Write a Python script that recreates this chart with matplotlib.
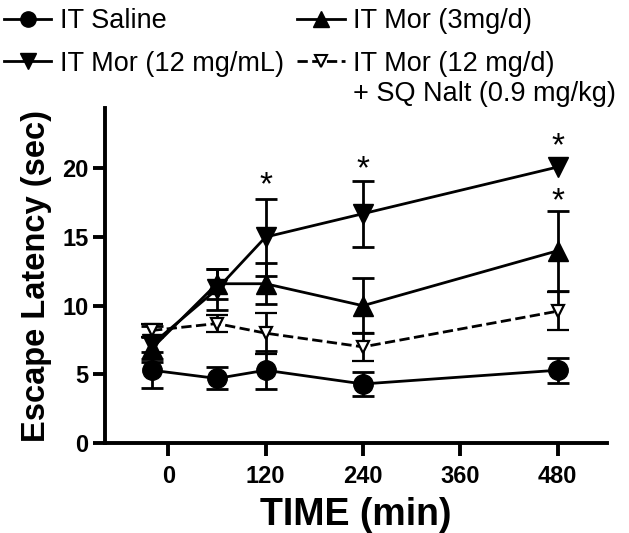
import matplotlib
matplotlib.use("Agg")
import matplotlib.pyplot as plt
from matplotlib.lines import Line2D

plt.rcParams['font.family'] = ['Liberation Sans', 'DejaVu Sans']

# ---- data ----
time_min = [-20, 60, 120, 240, 480]
saline_mean = [5.3, 4.7, 5.3, 4.3, 5.3]
saline_sem = [1.3, 0.8, 1.4, 0.9, 0.9]
mor3_mean = [6.9, 11.6, 11.6, 10.0, 14.0]
mor3_sem = [0.8, 1.1, 1.5, 2.0, 2.9]
mor12_mean = [7.2, 11.2, 15.0, 16.7, 20.1]
mor12_sem = [1.3, 1.5, 2.8, 2.4, float('nan')]  # error bar hidden at 480
nalt_mean = [8.2, 8.7, 8.0, 7.0, 9.6]
nalt_sem = [0.5, 0.6, 1.5, 1.0, 1.4]

star_x = [120, 240, 480, 480]
star_y = [18.7, 19.9, 21.6, 17.6]

xticks = [0, 120, 240, 360, 480]
yticks = [0, 5, 10, 15, 20]

labels = ["IT Saline", "IT Mor (3mg/d)", "IT Mor (12 mg/mL)", "IT Mor (12 mg/d)"]
nalt_label_line2 = "+ SQ Nalt (0.9 mg/kg)"

# ---- figure ----
fig = plt.figure(figsize=(6.29, 5.33), dpi=100)
ax = fig.add_axes([105/629, 1-443/533, (607-105)/629, (443-108)/533])

lw = 2.0
cap = 8
common = dict(color='black', lw=lw, capsize=cap, capthick=lw, elinewidth=lw)

ax.errorbar(time_min, saline_mean, yerr=saline_sem, fmt='-o', ms=14,
            mfc='black', mec='black', **common)
ax.errorbar(time_min, mor3_mean, yerr=mor3_sem, fmt='-^', ms=14,
            mfc='black', mec='black', **common)
ax.errorbar(time_min, mor12_mean, yerr=mor12_sem, fmt='-v', ms=14,
            mfc='black', mec='black', **common)
h_nal = ax.errorbar(time_min, nalt_mean, yerr=nalt_sem, fmt='--v', ms=9,
                    mfc='white', mec='black', mew=1.6, **common)
h_nal[-1][0].set_linestyle('-')

for sx, sy in zip(star_x, star_y):
    ax.text(sx, sy, '*', ha='center', va='center', fontsize=24)

ax.set_xlim(-78, 541)
ax.set_ylim(0, 24.4)
ax.set_xticks(xticks)
ax.set_yticks(yticks)
ax.set_xticklabels([str(t) for t in xticks], fontsize=17, fontweight='bold')
ax.set_yticklabels([str(t) for t in yticks], fontsize=17, fontweight='bold')
ax.tick_params(direction='out', length=9, width=2.8)
ax.tick_params(axis='x', pad=7)
ax.tick_params(axis='y', pad=3)
for s in ['top', 'right']:
    ax.spines[s].set_visible(False)
for s in ['left', 'bottom']:
    ax.spines[s].set_linewidth(2.8)

ax.set_xlabel('TIME (min)', fontsize=27, fontweight='bold', labelpad=6)
ax.set_ylabel('Escape Latency (sec)', fontsize=23.5, fontweight='bold', labelpad=7)

# ---- legend ----
hs = [
    Line2D([], [], color='k', lw=lw, marker='o', ms=11),
    Line2D([], [], color='k', lw=lw, marker='v', ms=12),
    Line2D([], [], color='k', lw=lw, marker='^', ms=12),
    Line2D([], [], color='k', lw=lw, ls='--', marker='v', ms=8, mfc='white', mew=1.5),
]
leg_labels = [labels[0], labels[2], labels[1], labels[3]]
leg = fig.legend(hs, leg_labels, loc='upper left', bbox_to_anchor=(0.0, 1.0 - 4/533),
                 ncol=2, frameon=False, fontsize=19.5, handlelength=1.75,
                 handletextpad=0.3, columnspacing=0.5, labelspacing=0.62,
                 borderaxespad=0.0, borderpad=0.15)

fig.canvas.draw()
r = fig.canvas.get_renderer()
bb = leg.get_texts()[3].get_window_extent(r)
fig.text(bb.x0 / fig.bbox.width, (bb.y0 - 4) / fig.bbox.height, nalt_label_line2,
         fontsize=19.5, ha='left', va='top')

fig.savefig('out.png', dpi=100)
